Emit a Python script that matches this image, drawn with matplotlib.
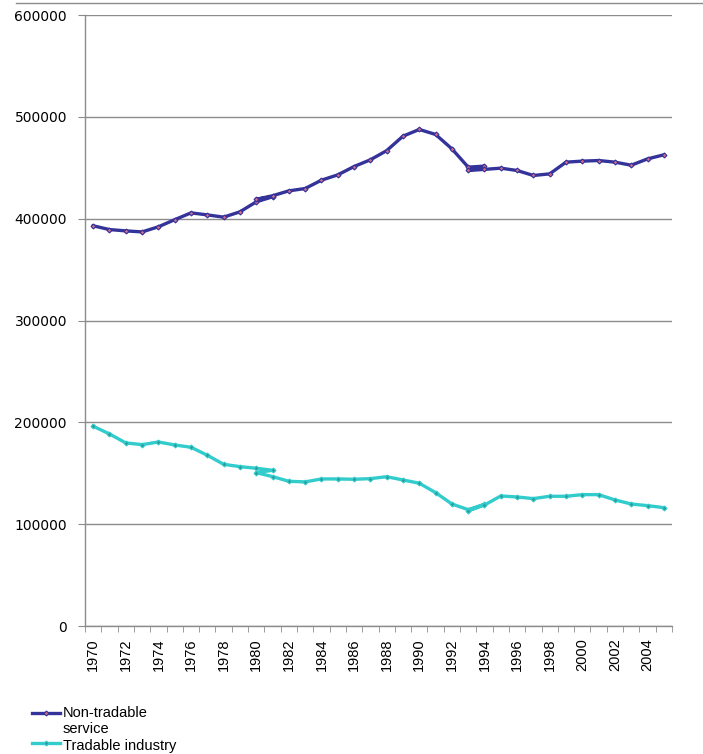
import matplotlib.pyplot as plt
from matplotlib.lines import Line2D
from matplotlib.ticker import MultipleLocator, FixedLocator

# Series breaks (1980/81 and 1993/94) appear as overlapping segments in the source.
service_years = [1970, 1971, 1972, 1973, 1974, 1975, 1976, 1977, 1978, 1979, 1980, 1981,
                 1980, 1981, 1982, 1983, 1984, 1985, 1986, 1987, 1988, 1989, 1990, 1991,
                 1992, 1993, 1994, 1993, 1994, 1995, 1996, 1997, 1998, 1999, 2000, 2001,
                 2002, 2003, 2004, 2005]
service = [393000, 389300, 388000, 387000, 392000, 399000, 405700, 403700, 401500, 406700,
           416500, 421500, 419000, 422500, 427300, 429600, 437800, 443000, 451200, 457800,
           466800, 481000, 487600, 482700, 468600, 450600, 451600, 447300, 448400, 449600,
           447300, 442400, 444000, 455500, 456500, 457100, 455500, 452500, 458700, 462700]

industry_years = [1970, 1971, 1972, 1973, 1974, 1975, 1976, 1977, 1978, 1979, 1980, 1981,
                  1980, 1981, 1982, 1983, 1984, 1985, 1986, 1987, 1988, 1989, 1990, 1991,
                  1992, 1993, 1994, 1993, 1994, 1995, 1996, 1997, 1998, 1999, 2000, 2001,
                  2002, 2003, 2004, 2005]
industry = [196200, 188600, 179800, 178100, 180700, 177800, 175500, 167700, 158800, 156500,
            154900, 152900, 150600, 146700, 142100, 141500, 144400, 144400, 144100, 144700,
            146600, 143400, 140200, 131000, 119800, 114300, 119500, 113200, 118800, 127700,
            126700, 125100, 127400, 127400, 129000, 129000, 123800, 119800, 118200, 116200]

labels = ['Non-tradable\nservice', 'Tradable industry']
navy = '#33339a'
cyan = '#33cccc'
grid_grey = '#8c8c8c'

W, H = 703, 754
fig = plt.figure(figsize=(W / 100, H / 100), dpi=100)
ax = fig.add_axes([85 / W, 1 - 626 / H, (672 - 85) / W, (626 - 15) / H])

ax.plot(service_years, service, color=navy, lw=2.4, marker='D', ms=2.5,
        mfc='#d06a8a', mec=navy, mew=0.8, zorder=3)
ax.plot(industry_years, industry, color=cyan, lw=2.4, marker='D', ms=2.5,
        mfc='#2a9a9a', mec=cyan, mew=0.8, zorder=3)

ax.set_xlim(1969.5, 2005.5)
ax.set_ylim(0, 600000)
ax.yaxis.set_major_locator(MultipleLocator(100000))
ax.grid(axis='y', color=grid_grey, lw=1)
ax.set_axisbelow(True)

# category-style x axis: tick marks between years, labels on every other year
ax.xaxis.set_major_locator(FixedLocator(list(range(1970, 2005, 2))))
ax.xaxis.set_minor_locator(FixedLocator([1969.5 + i for i in range(37)]))
ax.tick_params(axis='x', which='major', length=0, pad=9, labelrotation=90)
ax.tick_params(axis='x', which='minor', length=4, color=grid_grey, direction='out')
ax.tick_params(axis='y', length=5, color=grid_grey, pad=8, labelsize=10)
for lab in ax.get_xticklabels():
    lab.set_fontfamily('Liberation Sans')
    lab.set_fontsize(10.5)

for side in ('top', 'right'):
    ax.spines[side].set_visible(False)
for side in ('left', 'bottom'):
    ax.spines[side].set_color(grid_grey)
    ax.spines[side].set_linewidth(1)

# chart-area border line at the top
fig.add_artist(Line2D([16 / W, 1], [1 - 3 / H, 1 - 3 / H],
                      transform=fig.transFigure, color=grid_grey, lw=1))

# legend, handles aligned with the first line of each label
legend_rows = [(713, 706, navy, '#d06a8a'), (743, 739, cyan, '#2a9a9a')]
for (y, text_top, col, face), text in zip(legend_rows, labels):
    fig.add_artist(Line2D([32 / W, 60 / W], [1 - y / H] * 2, transform=fig.transFigure,
                          color=col, lw=2.4))
    fig.add_artist(Line2D([46 / W], [1 - y / H], transform=fig.transFigure,
                          marker='D', ms=2.5, mfc=face, mec=col, mew=0.8))
    fig.text(63 / W, 1 - text_top / H, text, ha='left', va='top',
             family='Liberation Sans', fontsize=10.5, linespacing=1.22)

fig.savefig('out.png', dpi=100)
